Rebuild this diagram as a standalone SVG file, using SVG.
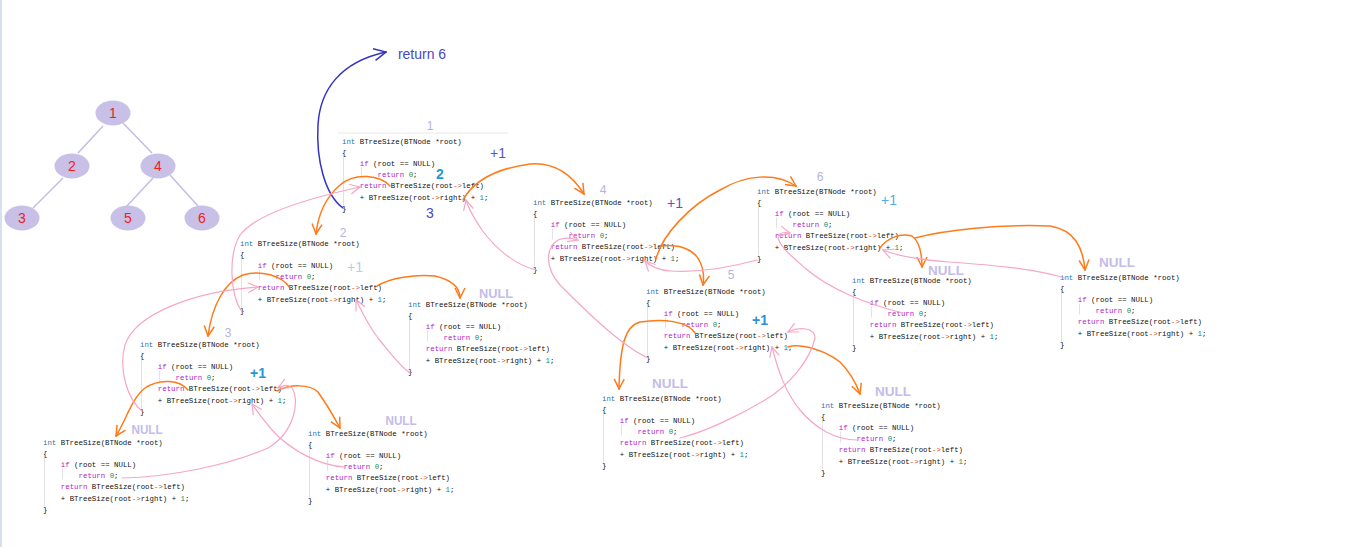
<svg xmlns="http://www.w3.org/2000/svg" width="1351" height="547" viewBox="0 0 1351 547">
<style>
.c{font-family:"Liberation Mono","DejaVu Sans Mono",monospace;font-size:7.4px;fill:#111111}
.k{fill:#2f6fb0}
.m{fill:#b020c8}
.g{fill:#108a60}
.a{fill:#d04820}
.guide{stroke:#e2e2e2;stroke-width:1;fill:none}
.lbl{font-family:"Liberation Sans",Arial,sans-serif;font-size:12px;fill:#b8b2e0;text-anchor:middle}
.nul{font-family:"Liberation Sans",Arial,sans-serif;font-size:13px;font-weight:bold;fill:#c4bcea;text-anchor:middle}
.ann{font-family:"Liberation Sans",Arial,sans-serif;font-size:14px;text-anchor:middle}
.tn{fill:#c8c0e6}
.tt{font-family:"Liberation Sans",Arial,sans-serif;font-size:14px;fill:#f02020;text-anchor:middle}
.te{stroke:#c4bce4;stroke-width:1.5}
.or{fill:none;stroke:#ff7a1a;stroke-width:1.5;stroke-linecap:round;marker-end:url(#mo)}
.pk{fill:none;stroke:#f7a6c6;stroke-width:1.2;stroke-linecap:round;marker-end:url(#mp)}
.bl{fill:none;stroke:#3434c4;stroke-width:1.5;stroke-linecap:round;marker-end:url(#mb)}
</style>
<defs>
<marker id="mo" viewBox="0 0 12 12" refX="11" refY="6" markerWidth="12" markerHeight="12" markerUnits="userSpaceOnUse" orient="auto"><path d="M1,1 L11,6 L1,11" fill="none" stroke="#ff7a1a" stroke-width="1.5"/></marker>
<marker id="mp" viewBox="0 0 12 12" refX="11" refY="6" markerWidth="12" markerHeight="12" markerUnits="userSpaceOnUse" orient="auto"><path d="M1,1 L11,6 L1,11" fill="none" stroke="#f7a6c6" stroke-width="1.2"/></marker>
<marker id="mb" viewBox="0 0 14 14" refX="13" refY="7" markerWidth="14" markerHeight="14" markerUnits="userSpaceOnUse" orient="auto"><path d="M1,1 L13,7 L1,13" fill="none" stroke="#3434c4" stroke-width="1.5"/></marker>
</defs>
<rect x="0" y="0" width="1351" height="547" fill="#ffffff"/>
<rect x="0" y="0" width="2" height="547" fill="#d8e0ee"/>

<g id="tree">
<g class="te"><line x1="103" y1="126" x2="78" y2="153"/><line x1="123" y1="123" x2="152" y2="153"/><line x1="63" y1="178" x2="33" y2="208"/><line x1="153" y1="178" x2="126" y2="207"/><line x1="170" y1="175" x2="198" y2="206"/></g>
<g id="t1"><ellipse class="tn" cx="113" cy="113" rx="17.5" ry="12.5"/><text class="tt" x="113" y="118">1</text></g>
<g id="t2"><ellipse class="tn" cx="72" cy="166" rx="17.5" ry="12.5"/><text class="tt" x="72" y="171">2</text></g>
<g id="t4"><ellipse class="tn" cx="158" cy="166" rx="17.5" ry="12.5"/><text class="tt" x="158" y="171">4</text></g>
<g id="t3"><ellipse class="tn" cx="22" cy="218" rx="17.5" ry="12.5"/><text class="tt" x="22" y="223">3</text></g>
<g id="t5"><ellipse class="tn" cx="128" cy="218" rx="17.5" ry="12.5"/><text class="tt" x="128" y="223">5</text></g>
<g id="t6"><ellipse class="tn" cx="202" cy="218" rx="17.5" ry="12.5"/><text class="tt" x="202" y="223">6</text></g>
</g>

<g id="call1">
<line x1="338" y1="133" x2="508" y2="133" stroke="#e8e8e8" stroke-width="1"/>
<text class="lbl" x="430" y="130">1</text>
<g transform="translate(342,143.5)">
<path class="guide" d="M1.5,12 V62 M19.5,24 V35"/>
<text class="c" x="0" y="0"><tspan class="k">int</tspan> BTreeSize(BTNode *root)</text>
<text class="c" x="0" y="11.2">{</text>
<text class="c" x="17.8" y="22.4"><tspan class="m">if</tspan> (root == NULL)</text>
<text class="c" x="35.6" y="33.6"><tspan class="m">return</tspan> <tspan class="g">0</tspan>;</text>
<text class="c" x="17.8" y="44.8"><tspan class="m">return</tspan> BTreeSize(root<tspan class="a">-&gt;</tspan>left)</text>
<text class="c" x="17.8" y="56">+ BTreeSize(root<tspan class="a">-&gt;</tspan>right) + <tspan class="g">1</tspan>;</text>
<text class="c" x="0" y="67.2">}</text>
</g>
</g>

<g id="call2">
<text class="lbl" x="343" y="237">2</text>
<g transform="translate(240,245.5)">
<path class="guide" d="M1.5,12 V62 M19.5,24 V35"/>
<text class="c" x="0" y="0"><tspan class="k">int</tspan> BTreeSize(BTNode *root)</text>
<text class="c" x="0" y="11.2">{</text>
<text class="c" x="17.8" y="22.4"><tspan class="m">if</tspan> (root == NULL)</text>
<text class="c" x="35.6" y="33.6"><tspan class="m">return</tspan> <tspan class="g">0</tspan>;</text>
<text class="c" x="17.8" y="44.8"><tspan class="m">return</tspan> BTreeSize(root<tspan class="a">-&gt;</tspan>left)</text>
<text class="c" x="17.8" y="56">+ BTreeSize(root<tspan class="a">-&gt;</tspan>right) + <tspan class="g">1</tspan>;</text>
<text class="c" x="0" y="67.2">}</text>
</g>
</g>

<g id="call3">
<text class="lbl" x="228" y="337">3</text>
<g transform="translate(140,346.5)">
<path class="guide" d="M1.5,12 V62 M19.5,24 V35"/>
<text class="c" x="0" y="0"><tspan class="k">int</tspan> BTreeSize(BTNode *root)</text>
<text class="c" x="0" y="11.2">{</text>
<text class="c" x="17.8" y="22.4"><tspan class="m">if</tspan> (root == NULL)</text>
<text class="c" x="35.6" y="33.6"><tspan class="m">return</tspan> <tspan class="g">0</tspan>;</text>
<text class="c" x="17.8" y="44.8"><tspan class="m">return</tspan> BTreeSize(root<tspan class="a">-&gt;</tspan>left)</text>
<text class="c" x="17.8" y="56">+ BTreeSize(root<tspan class="a">-&gt;</tspan>right) + <tspan class="g">1</tspan>;</text>
<text class="c" x="0" y="67.2">}</text>
</g>
</g>

<g id="null3L">
<text class="nul" x="147" y="433.7" textLength="31" lengthAdjust="spacingAndGlyphs">NULL</text>
<g transform="translate(43,444.5)">
<path class="guide" d="M1.5,12 V62 M19.5,24 V35"/>
<text class="c" x="0" y="0"><tspan class="k">int</tspan> BTreeSize(BTNode *root)</text>
<text class="c" x="0" y="11.2">{</text>
<text class="c" x="17.8" y="22.4"><tspan class="m">if</tspan> (root == NULL)</text>
<text class="c" x="35.6" y="33.6"><tspan class="m">return</tspan> <tspan class="g">0</tspan>;</text>
<text class="c" x="17.8" y="44.8"><tspan class="m">return</tspan> BTreeSize(root<tspan class="a">-&gt;</tspan>left)</text>
<text class="c" x="17.8" y="56">+ BTreeSize(root<tspan class="a">-&gt;</tspan>right) + <tspan class="g">1</tspan>;</text>
<text class="c" x="0" y="67.2">}</text>
</g>
</g>

<g id="null3R">
<text class="nul" x="401" y="424.7" textLength="31" lengthAdjust="spacingAndGlyphs">NULL</text>
<g transform="translate(308,435.5)">
<path class="guide" d="M1.5,12 V62 M19.5,24 V35"/>
<text class="c" x="0" y="0"><tspan class="k">int</tspan> BTreeSize(BTNode *root)</text>
<text class="c" x="0" y="11.2">{</text>
<text class="c" x="17.8" y="22.4"><tspan class="m">if</tspan> (root == NULL)</text>
<text class="c" x="35.6" y="33.6"><tspan class="m">return</tspan> <tspan class="g">0</tspan>;</text>
<text class="c" x="17.8" y="44.8"><tspan class="m">return</tspan> BTreeSize(root<tspan class="a">-&gt;</tspan>left)</text>
<text class="c" x="17.8" y="56">+ BTreeSize(root<tspan class="a">-&gt;</tspan>right) + <tspan class="g">1</tspan>;</text>
<text class="c" x="0" y="67.2">}</text>
</g>
</g>

<g id="null2R">
<text class="nul" x="496" y="297.7" textLength="34" lengthAdjust="spacingAndGlyphs">NULL</text>
<g transform="translate(408,306.5)">
<path class="guide" d="M1.5,12 V62 M19.5,24 V35"/>
<text class="c" x="0" y="0"><tspan class="k">int</tspan> BTreeSize(BTNode *root)</text>
<text class="c" x="0" y="11.2">{</text>
<text class="c" x="17.8" y="22.4"><tspan class="m">if</tspan> (root == NULL)</text>
<text class="c" x="35.6" y="33.6"><tspan class="m">return</tspan> <tspan class="g">0</tspan>;</text>
<text class="c" x="17.8" y="44.8"><tspan class="m">return</tspan> BTreeSize(root<tspan class="a">-&gt;</tspan>left)</text>
<text class="c" x="17.8" y="56">+ BTreeSize(root<tspan class="a">-&gt;</tspan>right) + <tspan class="g">1</tspan>;</text>
<text class="c" x="0" y="67.2">}</text>
</g>
</g>

<g id="call4">
<text class="lbl" x="603" y="194">4</text>
<g transform="translate(533,204.5)">
<path class="guide" d="M1.5,12 V62 M19.5,24 V35"/>
<text class="c" x="0" y="0"><tspan class="k">int</tspan> BTreeSize(BTNode *root)</text>
<text class="c" x="0" y="11.2">{</text>
<text class="c" x="17.8" y="22.4"><tspan class="m">if</tspan> (root == NULL)</text>
<text class="c" x="35.6" y="33.6"><tspan class="m">return</tspan> <tspan class="g">0</tspan>;</text>
<text class="c" x="17.8" y="44.8"><tspan class="m">return</tspan> BTreeSize(root<tspan class="a">-&gt;</tspan>left)</text>
<text class="c" x="17.8" y="56">+ BTreeSize(root<tspan class="a">-&gt;</tspan>right) + <tspan class="g">1</tspan>;</text>
<text class="c" x="0" y="67.2">}</text>
</g>
</g>

<g id="call5">
<text class="lbl" x="731" y="279">5</text>
<g transform="translate(646,293.5)">
<path class="guide" d="M1.5,12 V62 M19.5,24 V35"/>
<text class="c" x="0" y="0"><tspan class="k">int</tspan> BTreeSize(BTNode *root)</text>
<text class="c" x="0" y="11.2">{</text>
<text class="c" x="17.8" y="22.4"><tspan class="m">if</tspan> (root == NULL)</text>
<text class="c" x="35.6" y="33.6"><tspan class="m">return</tspan> <tspan class="g">0</tspan>;</text>
<text class="c" x="17.8" y="44.8"><tspan class="m">return</tspan> BTreeSize(root<tspan class="a">-&gt;</tspan>left)</text>
<text class="c" x="17.8" y="56">+ BTreeSize(root<tspan class="a">-&gt;</tspan>right) + <tspan class="g">1</tspan>;</text>
<text class="c" x="0" y="67.2">}</text>
</g>
</g>

<g id="null5L">
<text class="nul" x="670" y="387.7" textLength="36" lengthAdjust="spacingAndGlyphs">NULL</text>
<g transform="translate(602,400.5)">
<path class="guide" d="M1.5,12 V62 M19.5,24 V35"/>
<text class="c" x="0" y="0"><tspan class="k">int</tspan> BTreeSize(BTNode *root)</text>
<text class="c" x="0" y="11.2">{</text>
<text class="c" x="17.8" y="22.4"><tspan class="m">if</tspan> (root == NULL)</text>
<text class="c" x="35.6" y="33.6"><tspan class="m">return</tspan> <tspan class="g">0</tspan>;</text>
<text class="c" x="17.8" y="44.8"><tspan class="m">return</tspan> BTreeSize(root<tspan class="a">-&gt;</tspan>left)</text>
<text class="c" x="17.8" y="56">+ BTreeSize(root<tspan class="a">-&gt;</tspan>right) + <tspan class="g">1</tspan>;</text>
<text class="c" x="0" y="67.2">}</text>
</g>
</g>

<g id="null5R">
<text class="nul" x="893" y="395.7" textLength="36" lengthAdjust="spacingAndGlyphs">NULL</text>
<g transform="translate(821,407.5)">
<path class="guide" d="M1.5,12 V62 M19.5,24 V35"/>
<text class="c" x="0" y="0"><tspan class="k">int</tspan> BTreeSize(BTNode *root)</text>
<text class="c" x="0" y="11.2">{</text>
<text class="c" x="17.8" y="22.4"><tspan class="m">if</tspan> (root == NULL)</text>
<text class="c" x="35.6" y="33.6"><tspan class="m">return</tspan> <tspan class="g">0</tspan>;</text>
<text class="c" x="17.8" y="44.8"><tspan class="m">return</tspan> BTreeSize(root<tspan class="a">-&gt;</tspan>left)</text>
<text class="c" x="17.8" y="56">+ BTreeSize(root<tspan class="a">-&gt;</tspan>right) + <tspan class="g">1</tspan>;</text>
<text class="c" x="0" y="67.2">}</text>
</g>
</g>

<g id="call6">
<text class="lbl" x="820" y="181">6</text>
<g transform="translate(757,193.5)">
<path class="guide" d="M1.5,12 V62 M19.5,24 V35"/>
<text class="c" x="0" y="0"><tspan class="k">int</tspan> BTreeSize(BTNode *root)</text>
<text class="c" x="0" y="11.2">{</text>
<text class="c" x="17.8" y="22.4"><tspan class="m">if</tspan> (root == NULL)</text>
<text class="c" x="35.6" y="33.6"><tspan class="m">return</tspan> <tspan class="g">0</tspan>;</text>
<text class="c" x="17.8" y="44.8"><tspan class="m">return</tspan> BTreeSize(root<tspan class="a">-&gt;</tspan>left)</text>
<text class="c" x="17.8" y="56">+ BTreeSize(root<tspan class="a">-&gt;</tspan>right) + <tspan class="g">1</tspan>;</text>
<text class="c" x="0" y="67.2">}</text>
</g>
</g>

<g id="null6L">
<text class="nul" x="946" y="274.7" textLength="36" lengthAdjust="spacingAndGlyphs">NULL</text>
<g transform="translate(852,282.5)">
<path class="guide" d="M1.5,12 V62 M19.5,24 V35"/>
<text class="c" x="0" y="0"><tspan class="k">int</tspan> BTreeSize(BTNode *root)</text>
<text class="c" x="0" y="11.2">{</text>
<text class="c" x="17.8" y="22.4"><tspan class="m">if</tspan> (root == NULL)</text>
<text class="c" x="35.6" y="33.6"><tspan class="m">return</tspan> <tspan class="g">0</tspan>;</text>
<text class="c" x="17.8" y="44.8"><tspan class="m">return</tspan> BTreeSize(root<tspan class="a">-&gt;</tspan>left)</text>
<text class="c" x="17.8" y="56">+ BTreeSize(root<tspan class="a">-&gt;</tspan>right) + <tspan class="g">1</tspan>;</text>
<text class="c" x="0" y="67.2">}</text>
</g>
</g>

<g id="null6R">
<text class="nul" x="1117" y="266.7" textLength="36" lengthAdjust="spacingAndGlyphs">NULL</text>
<g transform="translate(1060,279.5)">
<path class="guide" d="M1.5,12 V62 M19.5,24 V35"/>
<text class="c" x="0" y="0"><tspan class="k">int</tspan> BTreeSize(BTNode *root)</text>
<text class="c" x="0" y="11.2">{</text>
<text class="c" x="17.8" y="22.4"><tspan class="m">if</tspan> (root == NULL)</text>
<text class="c" x="35.6" y="33.6"><tspan class="m">return</tspan> <tspan class="g">0</tspan>;</text>
<text class="c" x="17.8" y="44.8"><tspan class="m">return</tspan> BTreeSize(root<tspan class="a">-&gt;</tspan>left)</text>
<text class="c" x="17.8" y="56">+ BTreeSize(root<tspan class="a">-&gt;</tspan>right) + <tspan class="g">1</tspan>;</text>
<text class="c" x="0" y="67.2">}</text>
</g>
</g>

<g id="annotations">
<text class="ann" x="422" y="59" fill="#4848c8">return 6</text>
<text class="ann" x="498" y="158" fill="#5a50c8">+1</text>
<text class="ann" x="355" y="272" fill="#a8d4ee">+1</text>
<text class="ann" x="258" y="378" fill="#2a94d4" font-weight="bold">+1</text>
<text class="ann" x="675" y="208" fill="#5a50c8">+1</text>
<text class="ann" x="760" y="325" fill="#2a94d4" font-weight="bold">+1</text>
<text class="ann" x="889" y="205" fill="#50aee0">+1</text>
<text class="ann" x="440" y="179" fill="#1e9ad8" font-weight="bold">2</text>
<text class="ann" x="430" y="218" fill="#4848c0" font-size="13">3</text>
</g>

<g id="connectors">
<path class="bl" d="M343,208 C325,195 316,160 318,125 C320,90 340,62 386,52"/>
<path class="or" d="M390,186 C380,175 355,172 340,185 C325,198 318,215 316,234"/>
<path class="or" d="M463,200 C475,178 500,168 530,164 C555,162 572,175 584,194"/>
<path class="or" d="M290,288 C282,275 260,270 243,275 C225,282 212,305 208,336"/>
<path class="or" d="M377,286 C390,278 415,274 435,276 C452,280 460,288 460,298"/>
<path class="or" d="M188,390 C180,380 160,378 145,388 C132,398 126,420 116,436"/>
<path class="or" d="M277,391 C290,384 310,384 318,392 C325,402 333,415 340,428"/>
<path class="or" d="M656,259 C662,235 690,205 720,190 C745,175 775,172 796,186"/>
<path class="or" d="M662,246 C680,244 695,250 700,262 C704,270 704,278 703,285"/>
<path class="or" d="M695,333 C688,322 665,318 640,322 C625,326 620,345 619,389"/>
<path class="or" d="M788,347 C800,343 825,350 840,362 C850,372 856,383 860,394"/>
<path class="or" d="M880,248 C887,238 900,233 912,236 C920,242 922,255 922,267"/>
<path class="or" d="M915,238 C945,230 1000,224 1050,226 C1075,230 1083,248 1085,270"/>
<path class="pk" d="M122,478 C170,477 230,465 268,448 C295,432 300,400 292,388 C287,383 282,386 278,388"/>
<path class="pk" d="M345,467 C320,466 290,450 272,430 C262,418 256,410 252,404"/>
<path class="pk" d="M242,312 C230,295 228,255 240,235 C255,215 300,200 360,187"/>
<path class="pk" d="M142,411 C128,400 118,370 125,345 C135,315 190,292 258,287"/>
<path class="pk" d="M410,373 C398,365 388,350 378,338 C368,325 362,312 356,300"/>
<path class="pk" d="M536,270 C515,265 495,248 482,230 C474,218 468,208 466,200"/>
<path class="pk" d="M648,358 C620,345 585,310 560,285 C545,268 545,248 558,240 C565,237 572,238 578,240"/>
<path class="pk" d="M757,260 C735,266 700,273 670,271 C658,270 650,266 645,261"/>
<path class="pk" d="M903,313 C870,305 830,290 805,268 C790,255 778,245 778,236 C780,233 785,232 790,233"/>
<path class="pk" d="M1065,278 C1030,268 990,265 950,262 C920,260 895,255 883,250"/>
<path class="pk" d="M680,438 C705,432 740,415 765,400 C790,385 810,360 815,338 C815,328 800,326 788,332"/>
<path class="pk" d="M857,440 C835,440 815,428 800,410 C785,392 778,370 772,347"/>
</g>
</svg>
